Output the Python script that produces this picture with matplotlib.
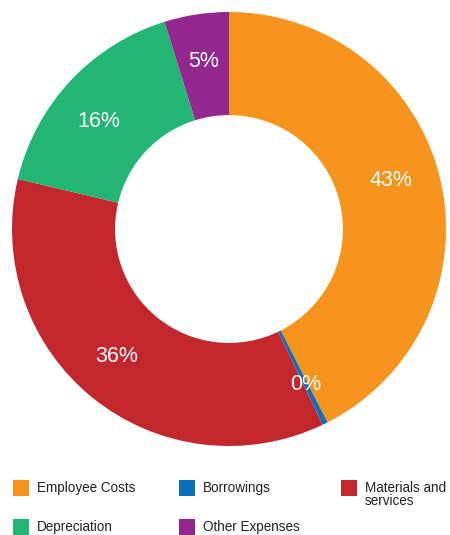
import numpy as np
import matplotlib.pyplot as plt
from matplotlib.patches import Rectangle

plt.rcParams['font.family'] = ['Liberation Sans', 'DejaVu Sans']

categories = ["Employee Costs", "Borrowings", "Materials and\nservices",
              "Depreciation", "Other Expenses"]
values = [42.5, 0.4, 35.8, 16.5, 4.8]
pct_labels = ["43%", "0%", "36%", "16%", "5%"]
colors = ["#F7941D", "#0B6FB8", "#C1272D", "#22B573", "#92278F"]

# small nudges so the percent labels sit where the original puts them
label_shift = [3.3, 0.0, -2.5, 3.5, 0.0]   # degrees, anticlockwise
label_r = [0.78, 0.80, 0.78, 0.775, 0.78]

fig = plt.figure(figsize=(4.5, 5.35), dpi=100)
ax = fig.add_axes([12 / 450, 89 / 535, 434 / 450, 434 / 535])

wedges, _ = ax.pie(values, colors=colors, startangle=90, counterclock=False,
                   radius=1.0, wedgeprops=dict(width=0.475, linewidth=0))
for w, lab, sh, r in zip(wedges, pct_labels, label_shift, label_r):
    ang = np.deg2rad((w.theta1 + w.theta2) / 2 + sh)
    ax.text(r * np.cos(ang), r * np.sin(ang), lab, color="white",
            fontsize=15.5, ha="center", va="center")
ax.set_xlim(-1, 1)
ax.set_ylim(-1, 1)
ax.set_aspect("equal")
ax.axis("off")

# legend laid out by hand, three per row
col_x = [13, 179, 341]
row_y = [480, 519]
for i, (name, c) in enumerate(zip(categories, colors)):
    x = col_x[i % 3]
    y = row_y[i // 3]
    fig.add_artist(Rectangle((x / 450, 1 - (y + 16) / 535), 16 / 450, 16 / 535,
                             transform=fig.transFigure, color=c, lw=0))
    fig.text((x + 24) / 450, 1 - (y + 1) / 535, name, fontsize=9.75,
             va="top", ha="left", color="#222222", linespacing=0.95)

fig.savefig("out.png", dpi=100)
